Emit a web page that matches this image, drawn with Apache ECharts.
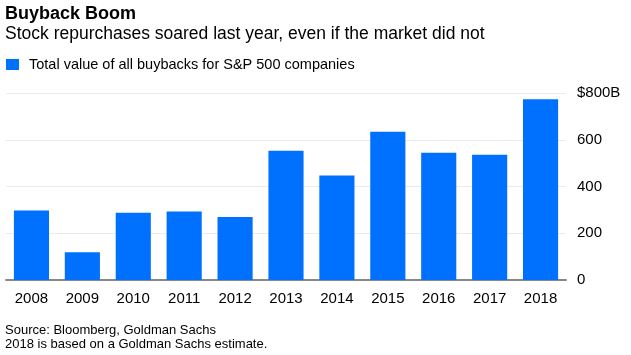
<!DOCTYPE html>
<html><head><meta charset="utf-8">
<script src="https://cdn.jsdelivr.net/npm/echarts@6/dist/echarts.min.js"></script>
<style>html,body{margin:0;padding:0;background:#fff}#c{width:631px;height:355px}</style>
</head><body><div id="c"></div>
<script>
var years = ['2008','2009','2010','2011','2012','2013','2014','2015','2016','2017','2018'];
var buybacks = [297, 119, 288, 293, 269, 553, 447, 634, 544, 536, 773];
var yTicks = [0, 200, 400, 600, 800];
var seriesName = 'Total value of all buybacks for S&P 500 companies';
var titleText = 'Buyback Boom';
var subtitleText = 'Stock repurchases soared last year, even if the market did not';
var noteLines = ['Source: Bloomberg, Goldman Sachs', '2018 is based on a Goldman Sachs estimate.'];

var FONT = 'Liberation Sans, Arial, sans-serif';
var chart = echarts.init(document.getElementById('c'));
chart.setOption({
  animation: false,
  textStyle: {fontFamily: FONT},
  title: [
    {text: titleText, left: 0, top: 0, textStyle: {fontSize: 18, fontWeight: 'bold', color: '#000', fontFamily: FONT}},
    {text: subtitleText, left: 0, top: 20, textStyle: {fontSize: 17.5, fontWeight: 'normal', color: '#000', fontFamily: FONT}},
    {text: noteLines.join('\n'), left: 0, top: 318, textStyle: {fontSize: 13, fontWeight: 'normal', color: '#000', lineHeight: 14, fontFamily: FONT}}
  ],
  legend: {
    left: 1, top: 52, icon: 'rect', itemWidth: 13, itemHeight: 11, itemGap: 8,
    textStyle: {fontSize: 14.5, color: '#000', fontFamily: FONT, padding: [0, 0, 0, 5]},
    data: [seriesName]
  },
  grid: {left: 6, right: 65, top: 93, bottom: 75, containLabel: false},
  xAxis: {
    type: 'category', data: years,
    axisLine: {lineStyle: {color: '#888', width: 2}},
    axisTick: {alignWithLabel: true, length: 5, lineStyle: {color: '#222'}},
    axisLabel: {color: '#000', fontSize: 15, margin: 11, fontFamily: FONT}
  },
  yAxis: {
    type: 'value', position: 'right', min: yTicks[0], max: yTicks[yTicks.length-1], interval: 200,
    axisLine: {show: false}, axisTick: {show: false},
    splitLine: {lineStyle: {color: '#ebebeb', width: 1}},
    axisLabel: {color: '#000', fontSize: 15, margin: 11, fontFamily: FONT,
      formatter: function(v){ return v === 800 ? '$800B' : String(v); }}
  },
  series: [{
    name: seriesName, type: 'bar', data: buybacks, barWidth: '69%',
    itemStyle: {color: '#0070ff'}
  }]
});
</script></body></html>
